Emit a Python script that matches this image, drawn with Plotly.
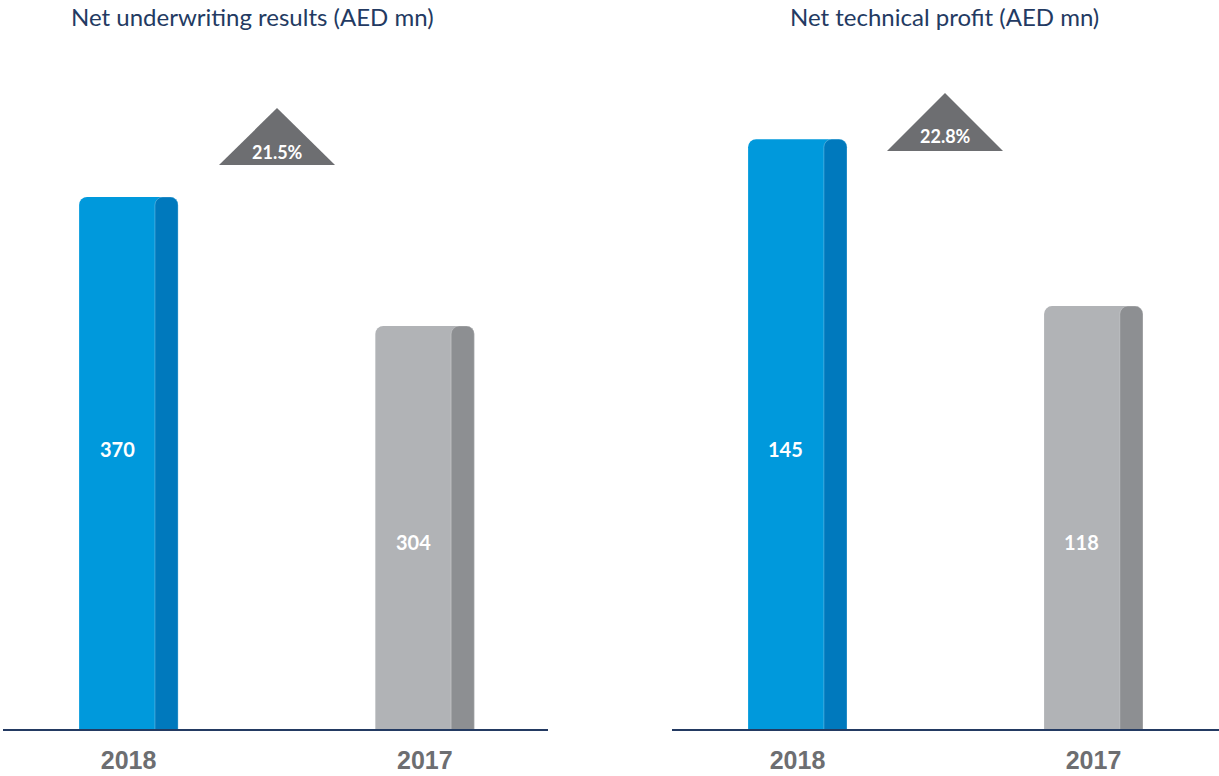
import plotly.graph_objects as go

# ---- data ----
years = ["2018", "2017"]
underwriting = [370, 304]
technical = [145, 118]
titles = ["Net underwriting results (AED mn)", "Net technical profit (AED mn)"]
growth = ["21.5%", "22.8%"]

# ---- style ----
BLUE, BLUE_D = "#0099dc", "#0079bd"
GRAY, GRAY_D = "#b1b3b6", "#8d8f92"
TRI = "#6d6e71"
NAVY = "#233a62"
W, H = 1219, 776
ML, MR, MT, MB = 3, 0, 60, 47
BAR_W, STRIP_W = 0.334, 0.078
PLOT_W, PLOT_H = W - ML - MR, H - MT - MB
LABEL_PX = [449, 542]          # vertical pixel position of value labels (1st, 2nd bar)
TITLE_PX = [252, 944]          # title centres
TRI_PX = [(277, 108, 165, 152), (945, 93, 151, 136)]  # centre x, apex y, base y, text y
TRI_HALF = 58


def px_x(p):  # figure pixel -> paper x
    return (p - ML) / PLOT_W


def px_y(p):  # figure pixel -> paper y
    return (H - MB - p) / PLOT_H


fig = go.Figure()
panels = [(underwriting, "x", "y", [97.8, 440.1]), (technical, "x2", "y2", [49.6, 157.8])]
for vals, xa, ya, rng in panels:
    fig.add_trace(go.Bar(x=years, y=vals, xaxis=xa, yaxis=ya, width=BAR_W, offset=-BAR_W / 2,
                         marker=dict(color=[BLUE, GRAY], cornerradius=8, line=dict(width=0)),
                         hoverinfo="skip", showlegend=False))
    fig.add_trace(go.Bar(x=years, y=vals, xaxis=xa, yaxis=ya, width=STRIP_W,
                         offset=BAR_W / 2 - STRIP_W,
                         marker=dict(color=[BLUE_D, GRAY_D], cornerradius=8,
                                     line=dict(width=1, color="rgba(255,255,255,0.25)")),
                         hoverinfo="skip", showlegend=False))
    for i, v in enumerate(vals):
        fig.add_annotation(x=i - STRIP_W / 2, y=px_y(LABEL_PX[i]), xref=xa, yref="paper",
                           xanchor="center", yanchor="middle",
                           text=str(v), showarrow=False,
                           font=dict(family="Lato", size=20, color="white", weight="bold"))

fig.update_layout(
    width=W, height=H, margin=dict(l=ML, r=MR, t=MT, b=MB),
    plot_bgcolor="white", paper_bgcolor="white", barmode="overlay",
    font=dict(family="Lato"),
)
axis_x = dict(type="category", showgrid=False, zeroline=False, showline=True, linecolor=NAVY,
              linewidth=1.5, ticks="", ticklabelstandoff=8, automargin=False,
              tickfont=dict(family="Arial", size=25, color="#6d6e71", weight="bold"),
              fixedrange=True)
fig.update_layout(
    xaxis=dict(domain=[0, 0.4482], range=[-0.424, 1.416], **axis_x),
    xaxis2=dict(domain=[0.5502, 1.0], range=[-0.424, 1.424], **axis_x),
    yaxis=dict(range=panels[0][3], visible=False, anchor="x", automargin=False, fixedrange=True),
    yaxis2=dict(range=panels[1][3], visible=False, anchor="x2", automargin=False, fixedrange=True),
)

# growth triangles (decorative)
for (cx, apex, base, ty), g in zip(TRI_PX, growth):
    fig.add_shape(type="path", xref="paper", yref="paper",
                  path=(f"M {px_x(cx - TRI_HALF)} {px_y(base)} L {px_x(cx)} {px_y(apex)} "
                        f"L {px_x(cx + TRI_HALF)} {px_y(base)} Z"),
                  fillcolor=TRI, line=dict(width=0))
    fig.add_annotation(x=px_x(cx), y=px_y(ty), xref="paper", yref="paper", text=g,
                       xanchor="center", yanchor="middle", showarrow=False,
                       font=dict(family="Lato", size=18, color="white", weight="bold"))

# titles
for tx, t in zip(TITLE_PX, titles):
    fig.add_annotation(x=px_x(tx), y=px_y(17), xref="paper", yref="paper", yanchor="middle",
                       xanchor="center", text=t, showarrow=False,
                       font=dict(family="Lato", size=24, color=NAVY))

fig.write_html("out.html", config={"displayModeBar": False},
               post_script="document.body.style.margin='0';")
